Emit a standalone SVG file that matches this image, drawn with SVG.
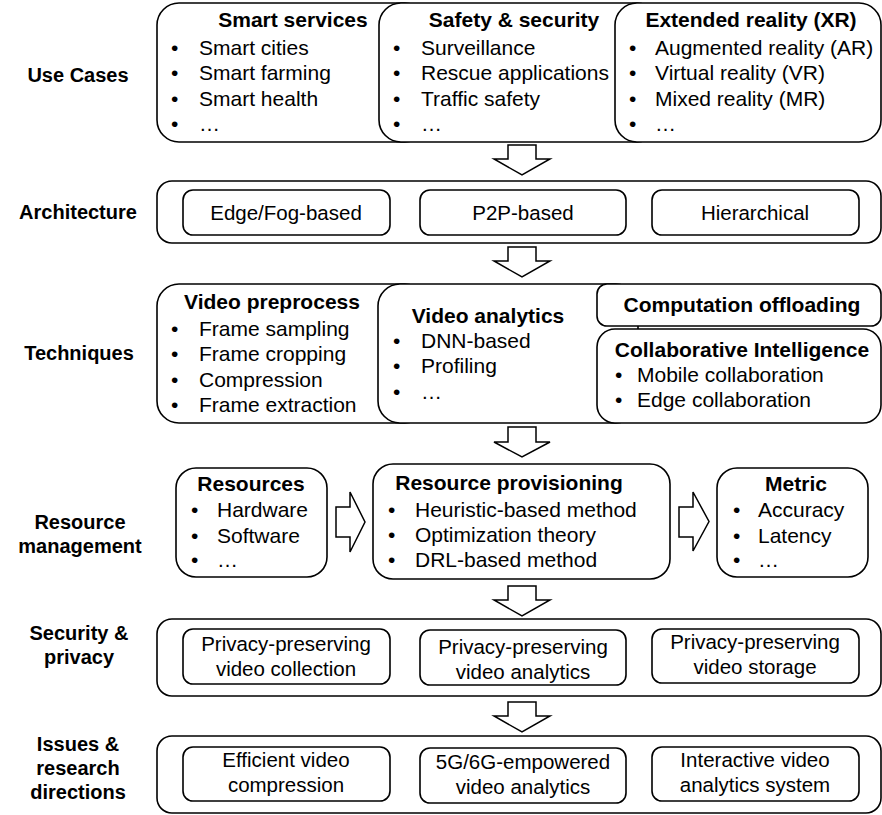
<svg xmlns="http://www.w3.org/2000/svg" width="882" height="815" viewBox="0 0 882 815">
<style>
.box{fill:#fff;stroke:#000;stroke-width:1.6}
.arr{fill:#fff;stroke:#000;stroke-width:1.5;stroke-linejoin:miter}
text{font-family:"Liberation Sans",Arial,sans-serif;fill:#000}
.h{font-size:21px;font-weight:bold;text-anchor:middle}
.t{font-size:21px}
.lab{font-size:20px;font-weight:bold;text-anchor:middle}
.in{font-size:20.5px;text-anchor:middle}
</style>
<rect width="882" height="815" fill="#fff"/>

<g id="labels">
<text class="lab" x="78" y="82">Use Cases</text>
<text class="lab" x="78" y="219">Architecture</text>
<text class="lab" x="79" y="360">Techniques</text>
<text class="lab" x="80" y="529">Resource</text>
<text class="lab" x="80" y="553">management</text>
<text class="lab" x="79" y="640">Security &amp;</text>
<text class="lab" x="79" y="664">privacy</text>
<text class="lab" x="78" y="751">Issues &amp;</text>
<text class="lab" x="78" y="775">research</text>
<text class="lab" x="78" y="799">directions</text>
</g>

<g id="smart-services">
<rect class="box" x="157" y="3" width="270" height="139" rx="22"/>
<text class="h" x="293" y="27">Smart services</text>
<text class="t" x="171" y="55">•</text><text class="t" x="199" y="55">Smart cities</text>
<text class="t" x="171" y="80">•</text><text class="t" x="199" y="80">Smart farming</text>
<text class="t" x="171" y="106">•</text><text class="t" x="199" y="106">Smart health</text>
<text class="t" x="171" y="131">•</text><text class="t" x="199" y="131">…</text>
</g>
<g id="safety-security">
<rect class="box" x="379" y="3" width="280" height="139" rx="22"/>
<text class="h" x="514" y="27">Safety &amp; security</text>
<text class="t" x="393" y="55">•</text><text class="t" x="421" y="55">Surveillance</text>
<text class="t" x="393" y="80">•</text><text class="t" x="421" y="80">Rescue applications</text>
<text class="t" x="393" y="106">•</text><text class="t" x="421" y="106">Traffic safety</text>
<text class="t" x="393" y="131">•</text><text class="t" x="421" y="131">…</text>
</g>
<g id="extended-reality">
<rect class="box" x="615" y="3" width="266" height="139" rx="22"/>
<text class="h" x="751" y="27">Extended reality (XR)</text>
<text class="t" x="629" y="55">•</text><text class="t" x="655" y="55">Augmented reality (AR)</text>
<text class="t" x="629" y="80">•</text><text class="t" x="655" y="80">Virtual reality (VR)</text>
<text class="t" x="629" y="106">•</text><text class="t" x="655" y="106">Mixed reality (MR)</text>
<text class="t" x="629" y="131">•</text><text class="t" x="655" y="131">…</text>
</g>

<g id="architecture">
<rect class="box" x="157" y="181" width="724" height="62" rx="15"/>
<g id="edge-fog"><rect class="box" x="183" y="190" width="207" height="45" rx="10"/><text class="in" x="286" y="220">Edge/Fog-based</text></g>
<g id="p2p"><rect class="box" x="420" y="190" width="206" height="45" rx="10"/><text class="in" x="523" y="220">P2P-based</text></g>
<g id="hierarchical"><rect class="box" x="652" y="190" width="207" height="45" rx="10"/><text class="in" x="755" y="220">Hierarchical</text></g>
</g>

<g id="video-preprocess">
<rect class="box" x="157" y="284" width="270" height="139" rx="22"/>
<text class="h" x="272" y="309">Video preprocess</text>
<text class="t" x="171" y="336">•</text><text class="t" x="199" y="336">Frame sampling</text>
<text class="t" x="171" y="361">•</text><text class="t" x="199" y="361">Frame cropping</text>
<text class="t" x="171" y="387">•</text><text class="t" x="199" y="387">Compression</text>
<text class="t" x="171" y="412">•</text><text class="t" x="199" y="412">Frame extraction</text>
</g>
<g id="video-analytics">
<rect class="box" x="378" y="284" width="260" height="139" rx="22"/>
<text class="h" x="488" y="323">Video analytics</text>
<text class="t" x="393" y="348">•</text><text class="t" x="421" y="348">DNN-based</text>
<text class="t" x="393" y="373">•</text><text class="t" x="421" y="373">Profiling</text>
<text class="t" x="393" y="399">•</text><text class="t" x="421" y="399">…</text>
</g>
<g id="computation-offloading">
<rect class="box" x="597" y="284" width="284" height="42" rx="10"/>
<text class="h" x="742" y="312">Computation offloading</text>
</g>
<g id="collaborative-intelligence">
<rect class="box" x="597" y="329" width="284" height="94" rx="18"/>
<text class="h" x="742" y="357">Collaborative Intelligence</text>
<text class="t" x="615" y="382">•</text><text class="t" x="637" y="382">Mobile collaboration</text>
<text class="t" x="615" y="407">•</text><text class="t" x="637" y="407">Edge collaboration</text>
</g>

<g id="resources">
<rect class="box" x="176" y="468" width="151" height="109" rx="20"/>
<text class="h" x="251" y="491">Resources</text>
<text class="t" x="191" y="517">•</text><text class="t" x="217" y="517">Hardware</text>
<text class="t" x="191" y="543">•</text><text class="t" x="217" y="543">Software</text>
<text class="t" x="191" y="567">•</text><text class="t" x="217" y="567">…</text>
</g>
<g id="resource-provisioning">
<rect class="box" x="373" y="464" width="297" height="115" rx="20"/>
<text class="h" x="509" y="490">Resource provisioning</text>
<text class="t" x="388" y="517">•</text><text class="t" x="415" y="517">Heuristic-based method</text>
<text class="t" x="388" y="542">•</text><text class="t" x="415" y="542">Optimization theory</text>
<text class="t" x="388" y="567">•</text><text class="t" x="415" y="567">DRL-based method</text>
</g>
<g id="metric">
<rect class="box" x="717" y="468" width="151" height="109" rx="20"/>
<text class="h" x="796" y="491">Metric</text>
<text class="t" x="733" y="517">•</text><text class="t" x="758" y="517">Accuracy</text>
<text class="t" x="733" y="543">•</text><text class="t" x="758" y="543">Latency</text>
<text class="t" x="733" y="567">•</text><text class="t" x="758" y="567">…</text>
</g>

<g id="security-privacy">
<rect class="box" x="157" y="619" width="724" height="77" rx="15"/>
<g id="pp-collection"><rect class="box" x="183" y="629" width="207" height="55" rx="10"/><text class="in" x="286" y="651">Privacy-preserving</text><text class="in" x="286" y="676">video collection</text></g>
<g id="pp-analytics"><rect class="box" x="420" y="630" width="206" height="55" rx="10"/><text class="in" x="523" y="654">Privacy-preserving</text><text class="in" x="523" y="679">video analytics</text></g>
<g id="pp-storage"><rect class="box" x="652" y="629" width="207" height="54" rx="10"/><text class="in" x="755" y="649">Privacy-preserving</text><text class="in" x="755" y="674">video storage</text></g>
</g>

<g id="issues">
<rect class="box" x="157" y="736" width="724" height="77" rx="15"/>
<g id="efficient-compression"><rect class="box" x="183" y="747" width="207" height="54" rx="10"/><text class="in" x="286" y="767">Efficient video</text><text class="in" x="286" y="792">compression</text></g>
<g id="5g6g"><rect class="box" x="420" y="748" width="206" height="55" rx="10"/><text class="in" x="523" y="769">5G/6G-empowered</text><text class="in" x="523" y="794">video analytics</text></g>
<g id="interactive"><rect class="box" x="652" y="747" width="207" height="54" rx="10"/><text class="in" x="755" y="767">Interactive video</text><text class="in" x="755" y="792">analytics system</text></g>
</g>

<g id="connectors">
<polygon class="arr" points="508,145 536,145 536,159 550,159 522,175 494,159 508,159"/>
<polygon class="arr" points="508,247 536,247 536,261 550,261 522,277 494,261 508,261"/>
<polygon class="arr" points="508,427 536,427 536,442 550,442 522,457 494,442 508,442"/>
<polygon class="arr" points="508,586 536,586 536,600 550,600 522,616 494,600 508,600"/>
<polygon class="arr" points="508,702 536,702 536,716 550,716 522,732 494,716 508,716"/>
<polygon class="arr" points="336,507 350,507 350,492 365,522 350,552 350,537 336,537"/>
<polygon class="arr" points="679,507 693,507 693,492 709,521.5 693,551 693,537 679,537"/>
</g>
</svg>
